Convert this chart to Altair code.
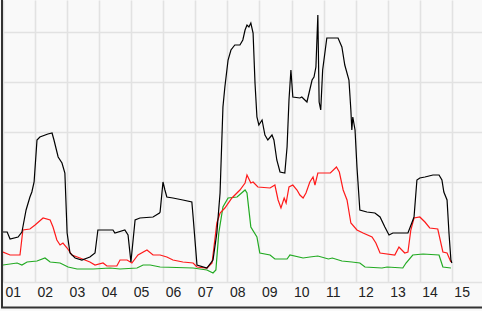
import altair as alt
import pandas as pd

# ---- data (decimal year, value; gridline step = 10) ----
black_x = [2001.00, 2001.13, 2001.22, 2001.47, 2001.59, 2001.62, 2001.72, 2001.84, 2001.90, 2001.97,
           2002.06, 2002.15, 2002.40, 2002.53, 2002.59, 2002.72, 2002.84, 2002.93, 2003.00, 2003.09,
           2003.25, 2003.46, 2003.71, 2003.87, 2003.96, 2004.43, 2004.49, 2004.80, 2004.90, 2004.99,
           2005.12, 2005.27, 2005.68, 2005.88, 2005.90, 2005.99, 2006.05, 2006.11, 2006.30, 2006.61,
           2006.89, 2006.93, 2007.05, 2007.36, 2007.55, 2007.67, 2007.77, 2007.86, 2007.92, 2008.02,
           2008.11, 2008.23, 2008.39, 2008.48, 2008.55, 2008.61, 2008.67, 2008.73, 2008.80, 2008.86,
           2008.92, 2008.98, 2009.08, 2009.17, 2009.26, 2009.39, 2009.45, 2009.54, 2009.64, 2009.79,
           2009.86, 2009.92, 2009.98, 2010.04, 2010.26, 2010.32, 2010.48, 2010.64, 2010.70, 2010.76,
           2010.82, 2010.86, 2010.91, 2010.97, 2011.10, 2011.45, 2011.57, 2011.66, 2011.79, 2011.85,
           2011.88, 2011.91, 2011.98, 2012.04, 2012.13, 2012.35, 2012.60, 2012.76, 2012.91, 2013.04,
           2013.16, 2013.63, 2013.75, 2013.82, 2013.91, 2014.00, 2014.16, 2014.41, 2014.60, 2014.69,
           2014.75, 2014.85, 2014.91, 2014.97, 2015.00]
black_y = [10.0, 10.0, 8.6, 9.0, 10.0, 11.0, 14.4, 17.0, 18.0, 20.0,
           28.4, 29.0, 29.6, 29.8, 28.4, 25.0, 23.8, 21.8, 9.8, 5.8,
           4.8, 4.4, 5.0, 5.8, 10.4, 10.4, 9.8, 10.4, 9.4, 4.0,
           12.4, 12.8, 13.0, 13.8, 14.0, 20.0, 18.4, 17.0, 16.8, 16.4,
           16.0, 13.0, 3.4, 2.8, 4.4, 9.8, 17.8, 35.0, 39.0, 44.4,
           46.4, 47.4, 47.4, 48.4, 50.4, 51.4, 51.0, 51.8, 49.8, 39.8,
           33.0, 31.4, 32.4, 29.4, 28.4, 29.4, 28.4, 24.4, 22.0, 21.8,
           27.0, 36.4, 42.4, 37.0, 36.8, 37.0, 36.0, 40.4, 41.0, 43.0,
           53.4, 36.0, 34.4, 42.4, 48.8, 48.8, 47.0, 43.4, 40.4, 34.4,
           30.4, 33.0, 30.4, 23.0, 14.4, 14.0, 13.8, 13.0, 11.0, 9.4,
           9.8, 9.8, 11.8, 13.0, 20.4, 20.8, 21.0, 21.4, 21.4, 20.4,
           18.0, 16.4, 9.8, 4.4, 3.8]

red_x = [2001.00, 2001.22, 2001.53, 2001.62, 2001.84, 2002.00, 2002.25, 2002.47, 2002.56, 2002.68,
         2002.78, 2002.87, 2003.00, 2003.15, 2003.40, 2003.71, 2003.87, 2004.12, 2004.24, 2004.55,
         2004.65, 2004.87, 2005.02, 2005.21, 2005.49, 2005.68, 2005.90, 2006.11, 2006.30, 2006.61,
         2006.93, 2007.05, 2007.36, 2007.52, 2007.58, 2007.67, 2007.77, 2007.92, 2008.14, 2008.39,
         2008.55, 2008.61, 2008.73, 2008.80, 2008.95, 2009.33, 2009.48, 2009.58, 2009.67, 2009.77,
         2009.83, 2009.92, 2010.04, 2010.17, 2010.26, 2010.36, 2010.45, 2010.57, 2010.67, 2010.73,
         2010.82, 2010.88, 2011.21, 2011.40, 2011.49, 2011.61, 2011.73, 2011.85, 2012.04, 2012.23,
         2012.51, 2012.63, 2012.76, 2013.22, 2013.35, 2013.53, 2013.63, 2013.72, 2013.82, 2014.00,
         2014.16, 2014.31, 2014.56, 2014.72, 2014.85, 2014.97]
red_y = [6.0, 5.4, 5.4, 10.4, 10.6, 11.4, 12.8, 12.4, 11.0, 8.4,
         7.4, 7.8, 6.8, 5.4, 4.8, 4.0, 3.4, 3.8, 3.2, 3.2,
         4.4, 4.4, 3.8, 5.4, 6.4, 5.4, 5.4, 5.0, 4.4, 4.0,
         3.8, 3.0, 2.8, 3.8, 7.0, 11.8, 13.8, 14.8, 16.8, 18.4,
         19.8, 21.4, 19.8, 20.0, 19.0, 18.8, 19.4, 16.4, 14.8, 16.8,
         15.8, 19.0, 19.4, 18.4, 17.4, 16.8, 17.8, 20.0, 21.0, 19.4,
         21.8, 21.8, 21.8, 23.0, 22.0, 18.4, 16.4, 11.8, 10.4, 9.8,
         9.0, 7.8, 5.8, 5.4, 7.0, 5.8, 6.0, 10.4, 12.8, 13.0,
         12.0, 10.8, 10.6, 6.0, 5.8, 4.0]

green_x = [2001.00, 2001.44, 2001.59, 2001.75, 2002.06, 2002.31, 2002.47, 2002.78, 2003.03, 2003.31,
           2003.81, 2004.34, 2004.65, 2005.18, 2005.37, 2005.59, 2005.90, 2006.93, 2007.36, 2007.55,
           2007.64, 2007.73, 2007.86, 2008.02, 2008.30, 2008.55, 2008.61, 2008.73, 2008.92, 2009.01,
           2009.33, 2009.48, 2009.86, 2009.95, 2010.36, 2010.57, 2010.82, 2011.15, 2011.27, 2011.57,
           2011.88, 2012.13, 2012.29, 2012.82, 2012.98, 2013.47, 2013.57, 2013.78, 2014.10, 2014.60,
           2014.72, 2014.97]
green_y = [3.4, 3.8, 3.4, 4.0, 4.2, 4.8, 4.0, 3.8, 3.0, 2.6,
           2.6, 2.8, 2.6, 2.8, 3.4, 3.4, 3.0, 2.8, 2.4, 1.8,
           2.4, 9.8, 15.0, 16.8, 17.0, 18.4, 17.8, 11.0, 9.0, 5.8,
           5.4, 4.6, 4.6, 5.4, 4.8, 5.0, 5.2, 4.6, 4.8, 4.2,
           4.0, 3.8, 3.0, 2.8, 3.0, 2.8, 3.8, 5.4, 5.6, 5.4,
           3.0, 2.8]

year_ticks = list(range(2001, 2016))
y_ticks = [0, 10, 20, 30, 40, 50]

series = [("green", green_x, green_y, "#22aa22"),
          ("red", red_x, red_y, "#ff1a1a"),
          ("black", black_x, black_y, "#000000")]

frames = []
for name, xs, ys, _ in series:
    frames.append(pd.DataFrame({"t": xs, "v": ys, "s": name}))
df = pd.concat(frames, ignore_index=True)

x_scale = alt.Scale(domain=[2001, 2015.94], nice=False, zero=False)
y_scale = alt.Scale(domain=[0, 56.4], nice=False, zero=False)

x_axis = alt.Axis(values=year_ticks, format="d", labelExpr="substring(datum.label, 2)",
                  title=None, ticks=False, domain=False, grid=True,
                  gridColor="#e2e2e2", gridWidth=1.6, labelAlign="left", labelOffset=2,
                  labelPadding=3, labelFont="Liberation Sans", labelFontSize=14,
                  labelColor="#222222", labelBaseline="top", labelFlush=False)
y_axis = alt.Axis(values=y_ticks, labels=False, ticks=False, domain=False, title=None,
                  grid=True, gridColor="#e2e2e2", gridWidth=1.6)

layers = []
for name, xs, ys, col in series:
    layers.append(
        alt.Chart(df).transform_filter(alt.datum.s == name)
        .mark_line(color=col, strokeWidth=1.2, clip=True)
        .encode(
            x=alt.X("t:Q", scale=x_scale, axis=x_axis),
            y=alt.Y("v:Q", scale=y_scale, axis=y_axis),
        )
    )

frame_df = pd.DataFrame({"a": [0]})
left_rule = alt.Chart(frame_df).mark_rule(color="#333333", strokeWidth=2).encode(
    x=alt.value(-1), y=alt.value(0), y2=alt.value(308))
bottom_rule = alt.Chart(frame_df).mark_rule(color="#333333", strokeWidth=2).encode(
    x=alt.value(-2), x2=alt.value(479), y=alt.value(307.5))

chart = alt.layer(*layers, left_rule, bottom_rule).properties(
    width=479, height=282,
    autosize=alt.AutoSizeParams(type="none"),
    padding={"left": 3, "top": 0, "right": 0, "bottom": 29},
    background="#f9f9f9",
).configure_view(stroke=None)

chart.save("out.html", embed_options={"renderer": "svg", "actions": False})
